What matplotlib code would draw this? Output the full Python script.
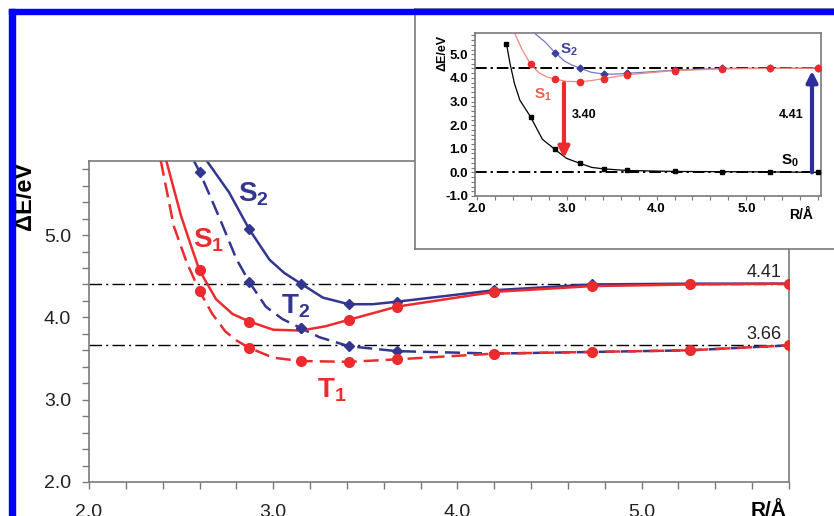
import matplotlib
matplotlib.use("Agg")
import matplotlib.pyplot as plt
import numpy as np
from matplotlib.patches import Rectangle

plt.rcParams['font.family'] = ['Liberation Sans', 'DejaVu Sans']
plt.rcParams['mathtext.default'] = 'regular'

# bond length points (R / Angstrom) where energies were computed
R = [2.60, 2.87, 3.15, 3.41, 3.67, 4.20, 4.73, 5.26, 5.80]
S1 = [4.57, 3.95, 3.84, 3.97, 4.13, 4.31, 4.38, 4.40, 4.41]
T1 = [4.32, 3.63, 3.47, 3.46, 3.49, 3.56, 3.58, 3.60, 3.66]
S2 = [np.nan, 5.07, 4.41, 4.16, 4.19, 4.33, 4.40, 4.41, 4.41]
T2 = [5.77, 4.43, 3.87, 3.65, 3.59, 3.56, 3.58, 3.60, 3.66]

# curve traces (markers + points along the drawn curves)
S1_cx = [2.42, 2.50, 2.56, 2.60, 2.69, 2.78, 2.87, 3.00, 3.15, 3.28, 3.41, 3.67, 4.20, 4.73, 5.26, 5.80]
S1_cy = [5.90, 5.23, 4.83, 4.57, 4.22, 4.04, 3.95, 3.85, 3.84, 3.89, 3.97, 4.13, 4.31, 4.38, 4.40, 4.41]
T1_cx = [2.39, 2.46, 2.53, 2.60, 2.67, 2.74, 2.80, 2.87, 3.00, 3.15, 3.41, 3.67, 4.20, 4.73, 5.26, 5.80]
T1_cy = [5.90, 5.11, 4.67, 4.32, 4.04, 3.83, 3.72, 3.63, 3.51, 3.47, 3.46, 3.49, 3.56, 3.58, 3.60, 3.66]
S2_cx = [2.64, 2.76, 2.87, 2.98, 3.06, 3.15, 3.27, 3.41, 3.54, 3.67, 4.20, 4.73, 5.26, 5.80]
S2_cy = [5.90, 5.52, 5.07, 4.70, 4.54, 4.41, 4.24, 4.16, 4.16, 4.19, 4.33, 4.40, 4.41, 4.41]
T2_cx = [2.57, 2.60, 2.71, 2.80, 2.87, 2.96, 3.05, 3.15, 3.25, 3.41, 3.67, 4.20, 4.73, 5.26, 5.80]
T2_cy = [5.90, 5.77, 5.20, 4.71, 4.43, 4.13, 3.98, 3.87, 3.76, 3.65, 3.59, 3.56, 3.58, 3.60, 3.66]

# ground state (inset)
R0 = [2.33, 2.60, 2.87, 3.15, 3.41, 3.67, 4.20, 4.73, 5.26, 5.80]
S0 = [5.45, 2.34, 0.97, 0.38, 0.15, 0.08, 0.04, 0.03, 0.02, 0.00]
S0_cx = [2.33, 2.37, 2.42, 2.48, 2.60, 2.73, 2.87, 3.00, 3.15, 3.28, 3.41, 3.67, 4.20, 4.73, 5.26, 5.80]
S0_cy = [5.45, 4.60, 3.75, 3.05, 2.34, 1.40, 0.97, 0.59, 0.38, 0.21, 0.15, 0.08, 0.04, 0.03, 0.02, 0.00]

ref_lines = [4.41, 3.66]
inset_lines = [4.41, 0.0]

red = '#ec2b2e'
blue = '#32368f'
gray = '#7a7a7a'
dashdot = (0, (9, 3, 1.5, 3))

fig = plt.figure(figsize=(8.34, 5.16), dpi=100)

# ---- main axes
ax = fig.add_axes([89/834, 34/516, 700/834, 321/516])
ax.set_xlim(2.0, 5.8)
ax.set_ylim(2.0, 5.9)

for v in ref_lines:
    ax.axhline(v, color='black', lw=1.0, ls=dashdot, zorder=1)

ax.plot(S2_cx, S2_cy, color=blue, lw=1.8, zorder=2)
ax.plot(T2_cx, T2_cy, color=blue, lw=1.8, ls=(0, (6, 2.8)), zorder=2)
ax.plot(S1_cx, S1_cy, color=red, lw=1.8, zorder=3)
ax.plot(T1_cx, T1_cy, color=red, lw=1.8, ls=(0, (6, 2.8)), zorder=3)
ax.plot(R, S2, ls='none', marker='D', ms=5, color=blue, zorder=4)
ax.plot(R, T2, ls='none', marker='D', ms=5, color=blue, zorder=4)
ax.plot(R, S1, ls='none', marker='o', ms=7, color=red, zorder=5,
        markevery=[0, 1, 3, 4, 5, 6, 7, 8])
ax.plot(R, T1, ls='none', marker='o', ms=7, color=red, zorder=5)
ax.plot(R[2], T2[2], ls='none', marker='D', ms=5, color=blue, zorder=6)

for v in ref_lines:
    ax.annotate(f'{v:.2f}', xy=(5.76, v), xytext=(0, 2), textcoords='offset points',
                ha='right', va='bottom', fontsize=13, color='#222222')

ax.text(2.89, 5.5, r'$S_2$', color=blue, fontsize=20, fontweight='bold', ha='center', va='center')
ax.text(2.65, 4.94, r'$S_1$', color=red, fontsize=20, fontweight='bold', ha='center', va='center')
ax.text(3.12, 4.13, r'$T_2$', color=blue, fontsize=20, fontweight='bold', ha='center', va='center')
ax.text(3.32, 3.12, r'$T_1$', color=red, fontsize=20, fontweight='bold', ha='center', va='center')

ax.set_xticks(np.arange(2.0, 5.81, 0.2), minor=True)
ax.set_xticks([2.0, 3.0, 4.0, 5.0])
ax.set_yticks(np.arange(2.0, 5.81, 0.2), minor=True)
ax.set_yticks([2.0, 3.0, 4.0, 5.0])
ax.xaxis.set_major_formatter(matplotlib.ticker.FormatStrFormatter('%.1f'))
ax.yaxis.set_major_formatter(matplotlib.ticker.FormatStrFormatter('%.1f'))
ax.tick_params(which='both', direction='out', length=5, width=1, color=gray,
               labelsize=14, labelcolor='#222222')
ax.tick_params(axis='x', pad=11)
ax.tick_params(axis='y', pad=8)
for s in ax.spines.values():
    s.set_color(gray)
    s.set_linewidth(1.2)

fig.text(25/834, 1 - 196/516, r'ΔE/eV', rotation=90, ha='center', va='center',
         fontsize=17, fontweight='bold')
fig.text(787/834, 1 - 501/516, 'R/Å', ha='right', va='top', fontsize=15, fontweight='bold')

# ---- inset frame
frame = fig.add_axes([415/834, 1 - 249/516, 0.6, 240/516])
frame.set_xticks([])
frame.set_yticks([])
for s in frame.spines.values():
    s.set_color(gray)
    s.set_linewidth(1.2)

# ---- inset axes
ins = fig.add_axes([475/834, 1 - 196/516, 346/834, 163/516])
ins.set_xlim(1.98, 5.83)
ins.set_ylim(-1.0, 5.9)
for v in inset_lines:
    ins.axhline(v, color='black', lw=1.4, ls=(0, (6, 2, 1.2, 2)), zorder=1)

ins.plot(S2_cx, S2_cy, color='#7478c8', lw=0.9, zorder=2)
ins.plot(S1_cx, S1_cy, color='#f08a78', lw=0.9, zorder=2)
ins.plot(S0_cx, S0_cy, color='black', lw=0.9, zorder=2)
ins.plot(R, S2, ls='none', marker='D', ms=3.5, color='#3a3fa0', zorder=3)
ins.plot(R, S1, ls='none', marker='o', ms=4.5, color=red, zorder=3)
ins.plot(R0, S0, ls='none', marker='s', ms=3, color='black', zorder=3)

ins.annotate('', xy=(2.97, 0.6), xytext=(2.97, 3.78),
             arrowprops=dict(arrowstyle='-|>', color=red, lw=3, mutation_scale=16,
                             shrinkA=0, shrinkB=0))
ins.annotate('', xy=(5.73, 4.3), xytext=(5.73, 0.0),
             arrowprops=dict(arrowstyle='-|>', color='#2c2f9a', lw=3, mutation_scale=16,
                             shrinkA=0, shrinkB=0))
ins.text(3.06, 2.45, '3.40', fontsize=9, fontweight='bold', ha='left', va='center')
ins.text(5.64, 2.45, '4.41', fontsize=9, fontweight='bold', ha='right', va='center')
ins.text(5.48, 0.5, r'$S_0$', fontsize=11, fontweight='bold', ha='center', va='center')
ins.text(2.74, 3.3, r'$S_1$', fontsize=11, fontweight='bold', color='#e8604a',
         ha='center', va='center')
ins.text(3.02, 5.2, r'$S_2$', fontsize=11, fontweight='bold', color='#3a3fa0',
         ha='center', va='center')

ins.set_xticks(np.arange(2.0, 5.81, 0.2), minor=True)
ins.set_xticks([2.0, 3.0, 4.0, 5.0])
ins.set_yticks(np.arange(-1.0, 5.81, 0.2), minor=True)
ins.set_yticks([-1.0, 0.0, 1.0, 2.0, 3.0, 4.0, 5.0])
ins.xaxis.set_major_formatter(matplotlib.ticker.FormatStrFormatter('%.1f'))
ins.yaxis.set_major_formatter(matplotlib.ticker.FormatStrFormatter('%.1f'))
ins.tick_params(which='both', direction='out', length=3, width=0.8, color=gray,
                labelsize=9.5, pad=2)
for lab in ins.get_xticklabels() + ins.get_yticklabels():
    lab.set_fontweight('bold')
for s in ins.spines.values():
    s.set_color(gray)
    s.set_linewidth(1.2)

fig.text(443/834, 1 - 53/516, r'ΔE/eV', rotation=90, ha='center', va='center',
         fontsize=9, fontweight='bold')
fig.text(813/834, 1 - 215/516, 'R/Å', ha='right', va='center', fontsize=10,
         fontweight='bold')

# ---- blue border (top and left)
fig.patches.append(Rectangle((9/834, 0), 6/834, 1 - 9/516, transform=fig.transFigure,
                             color='#0000ff', zorder=10))
fig.patches.append(Rectangle((9/834, 1 - 14/516), 1, 5/516, transform=fig.transFigure,
                             color='#0000ff', zorder=10))

fig.savefig('out.png', dpi=100)
